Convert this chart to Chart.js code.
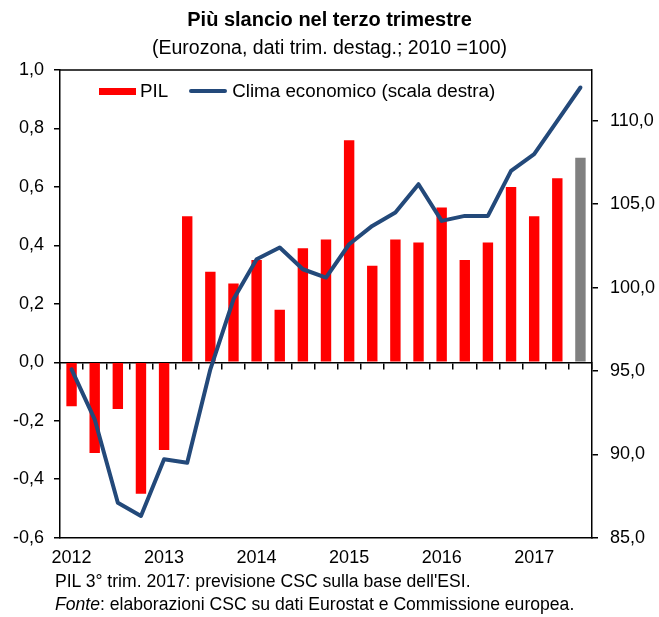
<!DOCTYPE html>
<html><head><meta charset="utf-8">
<script src="https://cdn.jsdelivr.net/npm/chart.js@4"></script>
<style>
html,body{margin:0;padding:0;background:#fff;}
#wrap{position:relative;width:659px;height:617px;font-family:'Liberation Sans',Arial,sans-serif;color:#000;}
canvas{position:absolute;left:0;top:0;}
.note{position:absolute;left:55px;font-size:17.6px;white-space:nowrap;line-height:1;}
#legend{position:absolute;left:99px;top:81px;height:20px;display:flex;align-items:center;font-size:18.8px;white-space:nowrap;}
#legend .sw{display:inline-block;}
</style></head><body>
<div id="wrap"><canvas id="c" width="659" height="617"></canvas>
<div id="legend"></div>
<div class="note" style="top:573px">PIL 3° trim. 2017: previsione CSC sulla base dell'ESI.</div>
<div class="note" style="top:596px"><i>Fonte</i>: elaborazioni CSC su dati Eurostat e Commissione europea.</div>
</div>
<script>
const categories = ['2012 T1','2012 T2','2012 T3','2012 T4','2013 T1','2013 T2','2013 T3','2013 T4',
  '2014 T1','2014 T2','2014 T3','2014 T4','2015 T1','2015 T2','2015 T3','2015 T4',
  '2016 T1','2016 T2','2016 T3','2016 T4','2017 T1','2017 T2','2017 T3'];
const pil = [-0.15,-0.31,-0.16,-0.45,-0.30,0.50,0.31,0.27,0.35,0.18,0.39,0.42,0.76,0.33,0.42,0.41,0.53,0.35,0.41,0.60,0.50,0.63,0.70];
const clima = [95.1,92.1,87.1,86.3,89.7,89.5,95.1,99.3,101.7,102.4,101.1,100.6,102.6,103.7,104.5,106.2,104.0,104.3,104.3,107.0,108.0,110.0,112.0];
const previsione = ['2017 T3'];
const rightTicks = [85,90,95,100,105,110];

const FONT = "'Liberation Sans', Arial, sans-serif";
Chart.defaults.font.family = FONT;
Chart.defaults.color = '#000';
const RED = '#FF0000', GREY = '#808080', BLUE = '#23497A';
const fmt = v => (Math.abs(v) < 1e-9 ? 0 : v).toFixed(1).replace('.', ',');

const frame = {
  id: 'frame',
  afterDraw(chart) {
    const {ctx, chartArea: a} = chart;
    ctx.save();
    ctx.strokeStyle = '#000'; ctx.lineWidth = 1.5;
    ctx.beginPath(); ctx.moveTo(a.left, a.top); ctx.lineTo(a.right, a.top); ctx.stroke();
    ctx.restore();
  }
};

const chart = new Chart(document.getElementById('c'), {
  type: 'bar',
  data: {
    labels: categories,
    datasets: [
      { type: 'bar', label: 'PIL', data: pil, xAxisID: 'x', yAxisID: 'y', order: 1,
        backgroundColor: c => previsione.includes(categories[c.dataIndex]) ? GREY : RED,
        borderWidth: 0, barPercentage: 0.45, categoryPercentage: 1 },
      { type: 'line', label: 'Clima economico (scala destra)', data: clima, xAxisID: 'x', yAxisID: 'y1', order: 0,
        borderColor: BLUE, backgroundColor: BLUE, borderWidth: 4, pointRadius: 0, tension: 0,
        borderJoinStyle: 'round', borderCapStyle: 'round', fill: false }
    ]
  },
  options: {
    responsive: false, animation: false,
    layout: { padding: { left: 0, right: 0, top: 0, bottom: 39.3 } },
    plugins: {
      title: { display: true, text: 'Più slancio nel terzo trimestre', color: '#000',
        font: { size: 20, weight: 'bold' }, padding: { top: 8, bottom: 0 } },
      subtitle: { display: true, text: '(Eurozona, dati trim. destag.; 2010 =100)', color: '#000',
        font: { size: 19.5 }, padding: { top: 4.8, bottom: 9.8 } },
      legend: { display: false },
      tooltip: { enabled: false }
    },
    scales: {
      x: { type: 'category', position: 'bottom', offset: true,
        grid: { display: false, drawTicks: false },
        border: { display: true, color: '#000', width: 1.5 },
        ticks: { autoSkip: false, maxRotation: 0, minRotation: 0, padding: 10, color: '#000',
          font: { size: 18 },
          callback: (v, i) => categories[i].endsWith('T1') ? categories[i].slice(0, 4) : '' },
        afterFit: s => { s.height = 40; } },
      x2: { type: 'category', position: { y: 0 }, offset: true,
        grid: { display: true, offset: true, drawOnChartArea: false, drawTicks: true, tickLength: 6,
          color: '#000', lineWidth: 1.5 },
        border: { display: true, color: '#000', width: 1.5 },
        ticks: { display: false } },
      y: { position: 'left', min: -0.6, max: 1.0,
        ticks: { stepSize: 0.2, font: { size: 18 }, color: '#000', padding: 10, callback: v => fmt(v) },
        grid: { display: true, drawOnChartArea: false, drawTicks: true, tickLength: 6, color: '#000', lineWidth: 1.5 },
        border: { display: true, color: '#000', width: 1.5 },
        afterFit: s => { s.width = 60; } },
      y1: { position: 'right', min: 85, max: 113.05,
        afterBuildTicks: s => { s.ticks = rightTicks.map(v => ({ value: v })); },
        ticks: { font: { size: 18 }, color: '#000', padding: 12, callback: v => fmt(v) },
        grid: { display: true, drawOnChartArea: false, drawTicks: true, tickLength: 6, color: '#000', lineWidth: 1.5 },
        border: { display: true, color: '#000', width: 1.5 },
        afterFit: s => { s.width = 67; } }
    }
  },
  plugins: [frame]
});

// HTML legend built from the chart's datasets
const leg = document.getElementById('legend');
chart.data.datasets.forEach((ds, i) => {
  const sw = document.createElement('span');
  sw.className = 'sw';
  if (ds.type === 'line') {
    sw.style.cssText = `width:38px;height:4px;border-radius:2px;background:${BLUE};margin:0 5px 0 21px;`;
  } else {
    sw.style.cssText = `width:37px;height:7px;background:${RED};margin-right:4px;`;
  }
  const tx = document.createElement('span');
  tx.textContent = ds.label;
  leg.appendChild(sw); leg.appendChild(tx);
});
</script>
</body></html>
